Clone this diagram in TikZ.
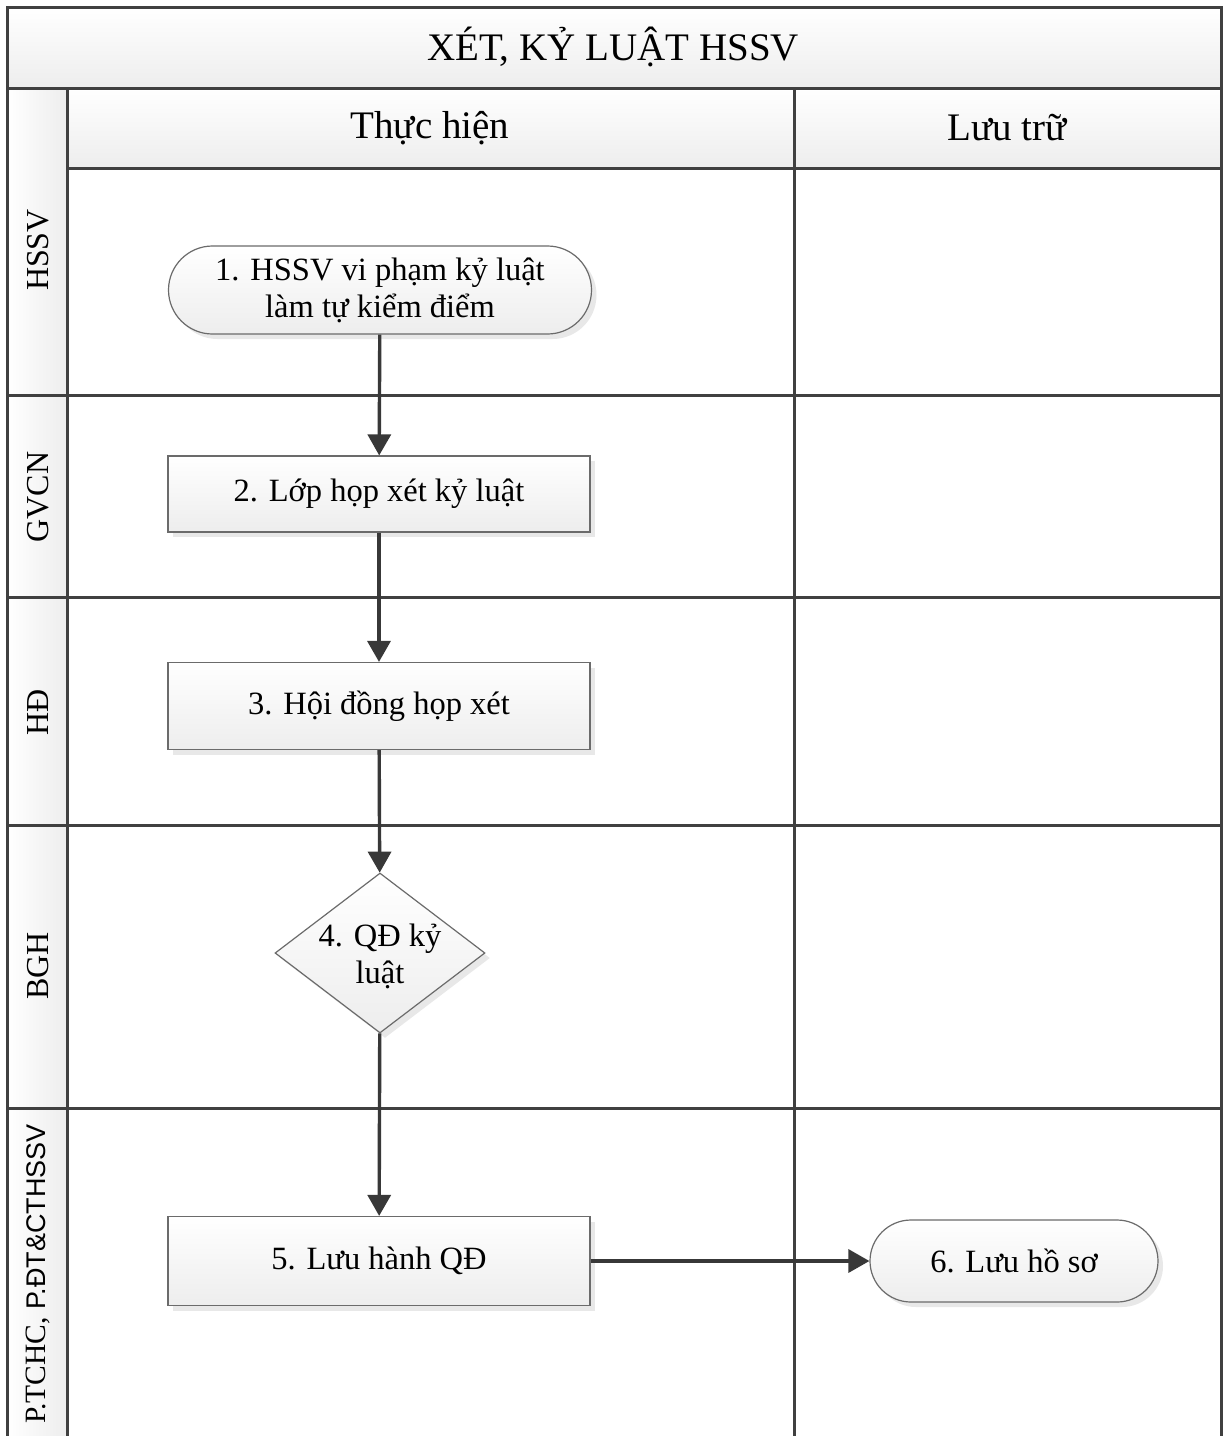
\documentclass[tikz,border=0pt]{standalone}
\usepackage{fontspec}
\setmainfont{Liberation Serif}
\newfontfamily\lsansfam{Liberation Sans}
\usetikzlibrary{arrows.meta,shapes.misc,shapes.geometric,shadows}
\newcommand\myNodeFont{\fontsize{32.5}{37}\selectfont}
\newcommand\myHeadFont{\fontsize{39}{44}\selectfont}
\newcommand\myLaneFont{\fontsize{32}{36}\selectfont}
\begin{document}
\begin{tikzpicture}[x=1pt,y=-1pt,
  frameline/.style={draw=black!75,line width=3pt},
  nshadow/.style={drop shadow={shadow xshift=5pt,shadow yshift=-5pt,fill=black!9,opacity=1}},
  procbox/.style={rectangle,draw=black!58,line width=1.2pt,top color=white,bottom color=black!7,
    minimum width=422pt,inner sep=0pt,align=center,font=\myNodeFont,nshadow},
  termbox/.style={rounded rectangle,draw=black!58,line width=1.2pt,top color=white,bottom color=black!7,
    inner sep=0pt,align=center,font=\myNodeFont,nshadow},
  decbox/.style={diamond,draw=black!58,line width=1.2pt,top color=white,bottom color=black!7,
    inner sep=0pt,minimum width=210pt,minimum height=160pt,nshadow},
  flow/.style={draw=black!78,line width=3.4pt,-{Triangle[length=21pt,width=23pt]}},
  lanelabel/.style={rotate=90,font=\myLaneFont,inner sep=0pt},
  headtext/.style={font=\myHeadFont,inner sep=0pt}
]
\useasboundingbox (0,0) rectangle (1224,1436);
% backgrounds
\fill[white] (0,0) rectangle (1224,1436);
\path[top color=white,bottom color=black!7] (7,7) rectangle (1221,88);
\path[left color=white,right color=black!7] (7,88) rectangle (67,1440);
\path[top color=white,bottom color=black!7] (67,88) rectangle (1221,168);
% grid lines
\draw[frameline] (7,1440) -- (7,7) -- (1221,7) -- (1221,1440);
\draw[frameline] (7,88) -- (1221,88);
\draw[frameline] (67,88) -- (67,1440);
\draw[frameline] (794,88) -- (794,1440);
\draw[frameline] (67,168) -- (1221,168);
\foreach \yy in {395,597,825,1108}{\draw[frameline] (7,\yy) -- (1221,\yy);}
% texts of header
\node[headtext] (title) at (613,47) {XÉT, KỶ LUẬT HSSV};
\node[headtext] (hdA) at (430,128) {Thực hiện};
\node[headtext] (hdB) at (1007,128) {Lưu trữ};
% lane labels
\node[lanelabel] (lnA) at (38,250) {HSSV};
\node[lanelabel] (lnB) at (38,497) {GVCN};
\node[lanelabel] (lnC) at (38,712) {HĐ};
\node[lanelabel] (lnD) at (38,966) {BGH};
\node[lanelabel] (lnE) at (38,1274) {{\fontsize{29.5}{33}\selectfont P.TCHC, }{\lsansfam\fontsize{27}{33}\selectfont P.ĐT\&CTHSSV}};
% nodes
\node[termbox,minimum width=423pt,minimum height=88pt] (n1) at (380,290) {1. HSSV vi phạm kỷ luật\\làm tự kiểm điểm};
\node[procbox,minimum height=76pt] (n2) at (379,494) {2. Lớp họp xét kỷ luật};
\node[procbox,minimum height=87pt] (n3) at (379,706) {3. Hội đồng họp xét};
\node[decbox] (n4) at (380,953) {};
\node[font=\myNodeFont,align=center,inner sep=0pt] (n4t) at ([yshift=-3pt]n4.center) {4. QĐ kỷ\\luật};
\node[procbox,minimum height=89pt] (n5) at (379,1261) {5. Lưu hành QĐ};
\node[termbox,minimum width=288pt,minimum height=82pt] (n6) at (1014,1261) {6. Lưu hồ sơ};
% connectors
\draw[flow] (n1) -- (n2);
\draw[flow] (n2) -- (n3);
\draw[flow] (n3) -- (n4);
\draw[flow] (n4) -- (n5);
\draw[flow] (n5) -- (n6);
\end{tikzpicture}
\end{document}
